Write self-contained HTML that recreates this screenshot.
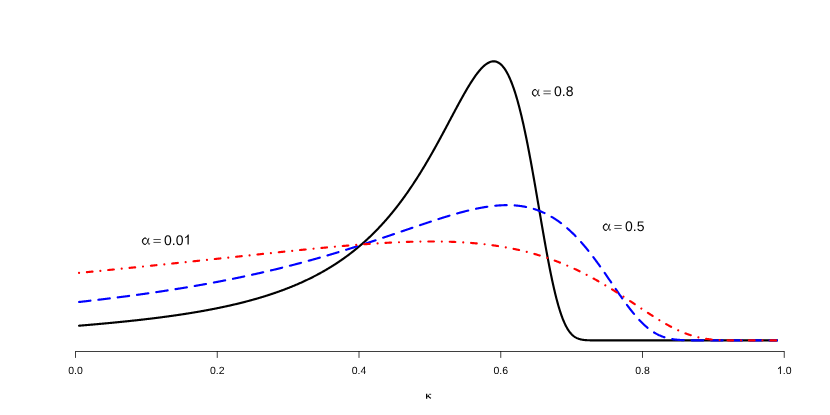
<!DOCTYPE html>
<html><head><meta charset="utf-8"><title>plot</title>
<style>
html,body{margin:0;padding:0;background:#fff;}
body{width:830px;height:415px;position:relative;overflow:hidden;font-family:"Liberation Sans",sans-serif;color:#000;}
svg{position:absolute;left:0;top:0;display:block;}
svg{opacity:0.999;will-change:opacity;}
</style></head><body>
<svg width="830" height="415" viewBox="0 0 830 415">
<g fill="none" stroke-linecap="round" stroke-linejoin="round" stroke-width="2.15">
<path stroke="#000" d="M79.04 325.72 L79.54 325.68 L80.04 325.64 L80.54 325.59 L81.04 325.55 L81.54 325.51 L82.04 325.47 L82.54 325.42 L83.04 325.38 L83.54 325.34 L84.04 325.30 L84.54 325.25 L85.04 325.21 L85.54 325.17 L86.04 325.12 L86.54 325.08 L87.04 325.04 L87.54 324.99 L88.04 324.95 L88.54 324.91 L89.04 324.86 L89.54 324.82 L90.04 324.78 L90.54 324.73 L91.04 324.69 L91.54 324.65 L92.04 324.60 L92.54 324.56 L93.04 324.51 L93.54 324.47 L94.04 324.43 L94.54 324.38 L95.04 324.34 L95.54 324.29 L96.04 324.25 L96.54 324.20 L97.04 324.16 L97.54 324.11 L98.04 324.07 L98.54 324.02 L99.04 323.98 L99.54 323.93 L100.04 323.89 L100.54 323.84 L101.04 323.80 L101.54 323.75 L102.04 323.71 L102.54 323.66 L103.04 323.61 L103.54 323.57 L104.04 323.52 L104.54 323.48 L105.04 323.43 L105.54 323.38 L106.04 323.34 L106.54 323.29 L107.04 323.24 L107.54 323.20 L108.04 323.15 L108.54 323.10 L109.04 323.05 L109.54 323.01 L110.04 322.96 L110.54 322.91 L111.04 322.86 L111.54 322.82 L112.04 322.77 L112.54 322.72 L113.04 322.67 L113.54 322.62 L114.04 322.58 L114.54 322.53 L115.04 322.48 L115.54 322.43 L116.04 322.38 L116.54 322.33 L117.04 322.28 L117.54 322.23 L118.04 322.18 L118.54 322.13 L119.04 322.08 L119.54 322.03 L120.04 321.98 L120.54 321.93 L121.04 321.88 L121.54 321.83 L122.04 321.78 L122.54 321.73 L123.04 321.68 L123.54 321.63 L124.04 321.58 L124.54 321.53 L125.04 321.48 L125.54 321.43 L126.04 321.37 L126.54 321.32 L127.04 321.27 L127.54 321.22 L128.04 321.17 L128.54 321.11 L129.04 321.06 L129.54 321.01 L130.04 320.95 L130.54 320.90 L131.04 320.85 L131.54 320.80 L132.04 320.74 L132.54 320.69 L133.04 320.63 L133.54 320.58 L134.04 320.53 L134.54 320.47 L135.04 320.42 L135.54 320.36 L136.04 320.31 L136.54 320.25 L137.04 320.20 L137.54 320.14 L138.04 320.09 L138.54 320.03 L139.04 319.97 L139.54 319.92 L140.04 319.86 L140.54 319.81 L141.04 319.75 L141.54 319.69 L142.04 319.63 L142.54 319.58 L143.04 319.52 L143.54 319.46 L144.04 319.40 L144.54 319.35 L145.04 319.29 L145.54 319.23 L146.04 319.17 L146.54 319.11 L147.04 319.05 L147.54 319.00 L148.04 318.94 L148.54 318.88 L149.04 318.82 L149.54 318.76 L150.04 318.70 L150.54 318.64 L151.04 318.58 L151.54 318.52 L152.04 318.45 L152.54 318.39 L153.04 318.33 L153.54 318.27 L154.04 318.21 L154.54 318.15 L155.04 318.08 L155.54 318.02 L156.04 317.96 L156.54 317.90 L157.04 317.83 L157.54 317.77 L158.04 317.71 L158.54 317.64 L159.04 317.58 L159.54 317.51 L160.04 317.45 L160.54 317.39 L161.04 317.32 L161.54 317.26 L162.04 317.19 L162.54 317.13 L163.04 317.06 L163.54 316.99 L164.04 316.93 L164.54 316.86 L165.04 316.79 L165.54 316.73 L166.04 316.66 L166.54 316.59 L167.04 316.52 L167.54 316.46 L168.04 316.39 L168.54 316.32 L169.04 316.25 L169.54 316.18 L170.04 316.11 L170.54 316.04 L171.04 315.97 L171.54 315.90 L172.04 315.83 L172.54 315.76 L173.04 315.69 L173.54 315.62 L174.04 315.55 L174.54 315.48 L175.04 315.41 L175.54 315.34 L176.04 315.26 L176.54 315.19 L177.04 315.12 L177.54 315.04 L178.04 314.97 L178.54 314.90 L179.04 314.82 L179.54 314.75 L180.04 314.67 L180.54 314.60 L181.04 314.52 L181.54 314.45 L182.04 314.37 L182.54 314.30 L183.04 314.22 L183.54 314.14 L184.04 314.07 L184.54 313.99 L185.04 313.91 L185.54 313.83 L186.04 313.76 L186.54 313.68 L187.04 313.60 L187.54 313.52 L188.04 313.44 L188.54 313.36 L189.04 313.28 L189.54 313.20 L190.04 313.12 L190.54 313.04 L191.04 312.96 L191.54 312.88 L192.04 312.79 L192.54 312.71 L193.04 312.63 L193.54 312.55 L194.04 312.46 L194.54 312.38 L195.04 312.30 L195.54 312.21 L196.04 312.13 L196.54 312.04 L197.04 311.96 L197.54 311.87 L198.04 311.79 L198.54 311.70 L199.04 311.61 L199.54 311.53 L200.04 311.44 L200.54 311.35 L201.04 311.26 L201.54 311.17 L202.04 311.09 L202.54 311.00 L203.04 310.91 L203.54 310.82 L204.04 310.73 L204.54 310.64 L205.04 310.55 L205.54 310.45 L206.04 310.36 L206.54 310.27 L207.04 310.18 L207.54 310.08 L208.04 309.99 L208.54 309.90 L209.04 309.80 L209.54 309.71 L210.04 309.61 L210.54 309.52 L211.04 309.42 L211.54 309.33 L212.04 309.23 L212.54 309.13 L213.04 309.04 L213.54 308.94 L214.04 308.84 L214.54 308.74 L215.04 308.64 L215.54 308.54 L216.04 308.44 L216.54 308.34 L217.04 308.24 L217.54 308.14 L218.04 308.04 L218.54 307.94 L219.04 307.84 L219.54 307.73 L220.04 307.63 L220.54 307.53 L221.04 307.42 L221.54 307.32 L222.04 307.21 L222.54 307.11 L223.04 307.00 L223.54 306.90 L224.04 306.79 L224.54 306.68 L225.04 306.57 L225.54 306.46 L226.04 306.36 L226.54 306.25 L227.04 306.14 L227.54 306.03 L228.04 305.92 L228.54 305.80 L229.04 305.69 L229.54 305.58 L230.04 305.47 L230.54 305.35 L231.04 305.24 L231.54 305.13 L232.04 305.01 L232.54 304.90 L233.04 304.78 L233.54 304.66 L234.04 304.55 L234.54 304.43 L235.04 304.31 L235.54 304.19 L236.04 304.08 L236.54 303.96 L237.04 303.84 L237.54 303.72 L238.04 303.59 L238.54 303.47 L239.04 303.35 L239.54 303.23 L240.04 303.11 L240.54 302.98 L241.04 302.86 L241.54 302.73 L242.04 302.61 L242.54 302.48 L243.04 302.35 L243.54 302.23 L244.04 302.10 L244.54 301.97 L245.04 301.84 L245.54 301.71 L246.04 301.58 L246.54 301.45 L247.04 301.32 L247.54 301.19 L248.04 301.05 L248.54 300.92 L249.04 300.79 L249.54 300.65 L250.04 300.52 L250.54 300.38 L251.04 300.25 L251.54 300.11 L252.04 299.97 L252.54 299.83 L253.04 299.69 L253.54 299.55 L254.04 299.41 L254.54 299.27 L255.04 299.13 L255.54 298.99 L256.04 298.85 L256.54 298.70 L257.04 298.56 L257.54 298.41 L258.04 298.27 L258.54 298.12 L259.04 297.97 L259.54 297.83 L260.04 297.68 L260.54 297.53 L261.04 297.38 L261.54 297.23 L262.04 297.08 L262.54 296.92 L263.04 296.77 L263.54 296.62 L264.04 296.46 L264.54 296.31 L265.04 296.15 L265.54 296.00 L266.04 295.84 L266.54 295.68 L267.04 295.52 L267.54 295.36 L268.04 295.20 L268.54 295.04 L269.04 294.88 L269.54 294.72 L270.04 294.55 L270.54 294.39 L271.04 294.22 L271.54 294.06 L272.04 293.89 L272.54 293.72 L273.04 293.56 L273.54 293.39 L274.04 293.22 L274.54 293.05 L275.04 292.87 L275.54 292.70 L276.04 292.53 L276.54 292.35 L277.04 292.18 L277.54 292.00 L278.04 291.83 L278.54 291.65 L279.04 291.47 L279.54 291.29 L280.04 291.11 L280.54 290.93 L281.04 290.75 L281.54 290.56 L282.04 290.38 L282.54 290.19 L283.04 290.01 L283.54 289.82 L284.04 289.63 L284.54 289.45 L285.04 289.26 L285.54 289.07 L286.04 288.87 L286.54 288.68 L287.04 288.49 L287.54 288.29 L288.04 288.10 L288.54 287.90 L289.04 287.70 L289.54 287.51 L290.04 287.31 L290.54 287.11 L291.04 286.90 L291.54 286.70 L292.04 286.50 L292.54 286.29 L293.04 286.09 L293.54 285.88 L294.04 285.67 L294.54 285.46 L295.04 285.25 L295.54 285.04 L296.04 284.83 L296.54 284.62 L297.04 284.40 L297.54 284.19 L298.04 283.97 L298.54 283.75 L299.04 283.53 L299.54 283.31 L300.04 283.09 L300.54 282.87 L301.04 282.65 L301.54 282.42 L302.04 282.20 L302.54 281.97 L303.04 281.74 L303.54 281.51 L304.04 281.28 L304.54 281.05 L305.04 280.82 L305.54 280.58 L306.04 280.35 L306.54 280.11 L307.04 279.87 L307.54 279.63 L308.04 279.39 L308.54 279.15 L309.04 278.91 L309.54 278.66 L310.04 278.42 L310.54 278.17 L311.04 277.92 L311.54 277.67 L312.04 277.42 L312.54 277.17 L313.04 276.92 L313.54 276.66 L314.04 276.41 L314.54 276.15 L315.04 275.89 L315.54 275.63 L316.04 275.37 L316.54 275.10 L317.04 274.84 L317.54 274.57 L318.04 274.31 L318.54 274.04 L319.04 273.77 L319.54 273.50 L320.04 273.22 L320.54 272.95 L321.04 272.67 L321.54 272.39 L322.04 272.11 L322.54 271.83 L323.04 271.55 L323.54 271.27 L324.04 270.98 L324.54 270.70 L325.04 270.41 L325.54 270.12 L326.04 269.83 L326.54 269.53 L327.04 269.24 L327.54 268.94 L328.04 268.64 L328.54 268.34 L329.04 268.04 L329.54 267.74 L330.04 267.43 L330.54 267.13 L331.04 266.82 L331.54 266.51 L332.04 266.20 L332.54 265.89 L333.04 265.57 L333.54 265.25 L334.04 264.94 L334.54 264.62 L335.04 264.29 L335.54 263.97 L336.04 263.65 L336.54 263.32 L337.04 262.99 L337.54 262.66 L338.04 262.33 L338.54 261.99 L339.04 261.65 L339.54 261.32 L340.04 260.98 L340.54 260.63 L341.04 260.29 L341.54 259.94 L342.04 259.60 L342.54 259.25 L343.04 258.90 L343.54 258.54 L344.04 258.19 L344.54 257.83 L345.04 257.47 L345.54 257.11 L346.04 256.74 L346.54 256.38 L347.04 256.01 L347.54 255.64 L348.04 255.27 L348.54 254.89 L349.04 254.52 L349.54 254.14 L350.04 253.76 L350.54 253.38 L351.04 252.99 L351.54 252.61 L352.04 252.22 L352.54 251.83 L353.04 251.43 L353.54 251.04 L354.04 250.64 L354.54 250.24 L355.04 249.84 L355.54 249.43 L356.04 249.03 L356.54 248.62 L357.04 248.21 L357.54 247.79 L358.04 247.38 L358.54 246.96 L359.04 246.54 L359.54 246.12 L360.04 245.69 L360.54 245.26 L361.04 244.83 L361.54 244.40 L362.04 243.96 L362.54 243.53 L363.04 243.09 L363.54 242.64 L364.04 242.20 L364.54 241.75 L365.04 241.30 L365.54 240.85 L366.04 240.39 L366.54 239.93 L367.04 239.47 L367.54 239.01 L368.04 238.55 L368.54 238.08 L369.04 237.61 L369.54 237.13 L370.04 236.66 L370.54 236.18 L371.04 235.70 L371.54 235.21 L372.04 234.73 L372.54 234.24 L373.04 233.74 L373.54 233.25 L374.04 232.75 L374.54 232.25 L375.04 231.75 L375.54 231.24 L376.04 230.73 L376.54 230.22 L377.04 229.70 L377.54 229.18 L378.04 228.66 L378.54 228.14 L379.04 227.61 L379.54 227.08 L380.04 226.55 L380.54 226.02 L381.04 225.48 L381.54 224.94 L382.04 224.39 L382.54 223.84 L383.04 223.29 L383.54 222.74 L384.04 222.18 L384.54 221.62 L385.04 221.06 L385.54 220.49 L386.04 219.92 L386.54 219.35 L387.04 218.78 L387.54 218.20 L388.04 217.62 L388.54 217.03 L389.04 216.44 L389.54 215.85 L390.04 215.26 L390.54 214.66 L391.04 214.06 L391.54 213.45 L392.04 212.85 L392.54 212.24 L393.04 211.62 L393.54 211.00 L394.04 210.38 L394.54 209.76 L395.04 209.13 L395.54 208.50 L396.04 207.87 L396.54 207.23 L397.04 206.59 L397.54 205.94 L398.04 205.29 L398.54 204.64 L399.04 203.99 L399.54 203.33 L400.04 202.67 L400.54 202.00 L401.04 201.33 L401.54 200.66 L402.04 199.99 L402.54 199.31 L403.04 198.62 L403.54 197.94 L404.04 197.25 L404.54 196.56 L405.04 195.86 L405.54 195.16 L406.04 194.46 L406.54 193.75 L407.04 193.04 L407.54 192.32 L408.04 191.61 L408.54 190.88 L409.04 190.16 L409.54 189.43 L410.04 188.70 L410.54 187.96 L411.04 187.22 L411.54 186.48 L412.04 185.73 L412.54 184.98 L413.04 184.23 L413.54 183.47 L414.04 182.71 L414.54 181.95 L415.04 181.18 L415.54 180.41 L416.04 179.64 L416.54 178.86 L417.04 178.07 L417.54 177.29 L418.04 176.50 L418.54 175.71 L419.04 174.91 L419.54 174.11 L420.04 173.31 L420.54 172.50 L421.04 171.69 L421.54 170.88 L422.04 170.06 L422.54 169.24 L423.04 168.42 L423.54 167.59 L424.04 166.76 L424.54 165.93 L425.04 165.09 L425.54 164.25 L426.04 163.41 L426.54 162.56 L427.04 161.72 L427.54 160.86 L428.04 160.01 L428.54 159.15 L429.04 158.29 L429.54 157.42 L430.04 156.55 L430.54 155.68 L431.04 154.81 L431.54 153.93 L432.04 153.05 L432.54 152.17 L433.04 151.28 L433.54 150.39 L434.04 149.50 L434.54 148.61 L435.04 147.71 L435.54 146.81 L436.04 145.91 L436.54 145.01 L437.04 144.10 L437.54 143.19 L438.04 142.28 L438.54 141.37 L439.04 140.45 L439.54 139.53 L440.04 138.62 L440.54 137.69 L441.04 136.77 L441.54 135.85 L442.04 134.92 L442.54 133.99 L443.04 133.06 L443.54 132.13 L444.04 131.20 L444.54 130.26 L445.04 129.33 L445.54 128.39 L446.04 127.45 L446.54 126.51 L447.04 125.58 L447.54 124.64 L448.04 123.69 L448.54 122.75 L449.04 121.81 L449.54 120.87 L450.04 119.93 L450.54 118.99 L451.04 118.05 L451.54 117.10 L452.04 116.16 L452.54 115.22 L453.04 114.28 L453.54 113.34 L454.04 112.40 L454.54 111.47 L455.04 110.53 L455.54 109.60 L456.04 108.66 L456.54 107.73 L457.04 106.80 L457.54 105.87 L458.04 104.95 L458.54 104.03 L459.04 103.11 L459.54 102.19 L460.04 101.27 L460.54 100.36 L461.04 99.46 L461.54 98.55 L462.04 97.65 L462.54 96.75 L463.04 95.86 L463.54 94.97 L464.04 94.09 L464.54 93.21 L465.04 92.34 L465.54 91.47 L466.04 90.61 L466.54 89.75 L467.04 88.90 L467.54 88.06 L468.04 87.22 L468.54 86.39 L469.04 85.57 L469.54 84.76 L470.04 83.95 L470.54 83.15 L471.04 82.36 L471.54 81.58 L472.04 80.80 L472.54 80.04 L473.04 79.28 L473.54 78.54 L474.04 77.81 L474.54 77.08 L475.04 76.37 L475.54 75.67 L476.04 74.98 L476.54 74.30 L477.04 73.64 L477.54 72.99 L478.04 72.35 L478.54 71.72 L479.04 71.11 L479.54 70.51 L480.04 69.93 L480.54 69.36 L481.04 68.81 L481.54 68.27 L482.04 67.76 L482.54 67.25 L483.04 66.77 L483.54 66.30 L484.04 65.85 L484.54 65.42 L485.04 65.00 L485.54 64.61 L486.04 64.24 L486.54 63.88 L487.04 63.55 L487.54 63.24 L488.04 62.95 L488.54 62.68 L489.04 62.43 L489.54 62.21 L490.04 62.01 L490.54 61.84 L491.04 61.69 L491.54 61.56 L492.04 61.46 L492.54 61.39 L493.04 61.34 L493.54 61.32 L494.04 61.33 L494.54 61.36 L495.04 61.43 L495.54 61.52 L496.04 61.64 L496.54 61.79 L497.04 61.97 L497.54 62.19 L498.04 62.43 L498.54 62.71 L499.04 63.02 L499.54 63.36 L500.04 63.73 L500.54 64.14 L501.04 64.58 L501.54 65.06 L502.04 65.57 L502.54 66.12 L503.04 66.71 L503.54 67.33 L504.04 67.98 L504.54 68.68 L505.04 69.41 L505.54 70.18 L506.04 70.99 L506.54 71.83 L507.04 72.72 L507.54 73.65 L508.04 74.61 L508.54 75.62 L509.04 76.66 L509.54 77.75 L510.04 78.88 L510.54 80.05 L511.04 81.26 L511.54 82.51 L512.04 83.80 L512.54 85.13 L513.04 86.51 L513.54 87.93 L514.04 89.39 L514.54 90.90 L515.04 92.44 L515.54 94.03 L516.04 95.66 L516.54 97.33 L517.04 99.05 L517.54 100.81 L518.04 102.60 L518.54 104.45 L519.04 106.33 L519.54 108.25 L520.04 110.22 L520.54 112.22 L521.04 114.27 L521.54 116.35 L522.04 118.48 L522.54 120.64 L523.04 122.85 L523.54 125.09 L524.04 127.37 L524.54 129.68 L525.04 132.03 L525.54 134.42 L526.04 136.84 L526.54 139.30 L527.04 141.79 L527.54 144.31 L528.04 146.86 L528.54 149.45 L529.04 152.06 L529.54 154.70 L530.04 157.37 L530.54 160.06 L531.04 162.78 L531.54 165.53 L532.04 168.29 L532.54 171.08 L533.04 173.89 L533.54 176.72 L534.04 179.56 L534.54 182.42 L535.04 185.29 L535.54 188.18 L536.04 191.08 L536.54 193.99 L537.04 196.90 L537.54 199.82 L538.04 202.75 L538.54 205.68 L539.04 208.61 L539.54 211.55 L540.04 214.48 L540.54 217.40 L541.04 220.32 L541.54 223.24 L542.04 226.14 L542.54 229.03 L543.04 231.92 L543.54 234.78 L544.04 237.63 L544.54 240.47 L545.04 243.28 L545.54 246.07 L546.04 248.84 L546.54 251.58 L547.04 254.30 L547.54 256.99 L548.04 259.65 L548.54 262.28 L549.04 264.87 L549.54 267.43 L550.04 269.95 L550.54 272.44 L551.04 274.89 L551.54 277.30 L552.04 279.66 L552.54 281.98 L553.04 284.26 L553.54 286.50 L554.04 288.69 L554.54 290.83 L555.04 292.92 L555.54 294.97 L556.04 296.97 L556.54 298.91 L557.04 300.81 L557.54 302.65 L558.04 304.45 L558.54 306.19 L559.04 307.88 L559.54 309.52 L560.04 311.10 L560.54 312.64 L561.04 314.12 L561.54 315.55 L562.04 316.93 L562.54 318.26 L563.04 319.53 L563.54 320.76 L564.04 321.93 L564.54 323.06 L565.04 324.14 L565.54 325.17 L566.04 326.15 L566.54 327.09 L567.04 327.98 L567.54 328.83 L568.04 329.63 L568.54 330.40 L569.04 331.12 L569.54 331.80 L570.04 332.45 L570.54 333.05 L571.04 333.63 L571.54 334.16 L572.04 334.67 L572.54 335.14 L573.04 335.58 L573.54 335.99 L574.04 336.37 L574.54 336.73 L575.04 337.06 L575.54 337.36 L576.04 337.65 L576.54 337.91 L577.04 338.15 L577.54 338.37 L578.04 338.57 L578.54 338.76 L579.04 338.93 L579.54 339.08 L580.04 339.22 L580.54 339.35 L581.04 339.47 L581.54 339.57 L582.04 339.67 L582.54 339.75 L583.04 339.83 L583.54 339.90 L584.04 339.96 L584.54 340.01 L585.04 340.06 L585.54 340.10 L586.04 340.14 L586.54 340.17 L587.04 340.20 L587.54 340.23 L588.04 340.25 L588.54 340.27 L589.04 340.28 L589.54 340.30 L590.04 340.31 L590.54 340.32 L591.04 340.33 L591.54 340.34 L592.04 340.35 L592.54 340.35 L593.04 340.36 L593.54 340.36 L594.04 340.36 L594.54 340.37 L595.04 340.37 L595.54 340.37 L596.04 340.37 L596.54 340.37 L597.04 340.38 L597.54 340.38 L598.04 340.38 L598.54 340.38 L599.04 340.38 L599.54 340.38 L600.04 340.38 L600.54 340.38 L601.04 340.38 L601.54 340.38 L602.04 340.38 L602.54 340.38 L603.04 340.38 L603.54 340.38 L604.04 340.38 L604.54 340.38 L605.04 340.38 L605.54 340.38 L606.04 340.38 L606.54 340.38 L607.04 340.38 L607.54 340.38 L608.04 340.38 L608.54 340.38 L609.04 340.38 L609.54 340.38 L610.04 340.38 L610.54 340.38 L611.04 340.38 L611.54 340.38 L612.04 340.38 L612.54 340.38 L613.04 340.38 L613.54 340.38 L614.04 340.38 L614.54 340.38 L615.04 340.38 L615.54 340.38 L616.04 340.38 L616.54 340.38 L617.04 340.38 L617.54 340.38 L618.04 340.38 L618.54 340.38 L619.04 340.38 L619.54 340.38 L620.04 340.38 L620.54 340.38 L621.04 340.38 L621.54 340.38 L622.04 340.38 L622.54 340.38 L623.04 340.38 L623.54 340.38 L624.04 340.38 L624.54 340.38 L625.04 340.38 L625.54 340.38 L626.04 340.38 L626.54 340.38 L627.04 340.38 L627.54 340.38 L628.04 340.38 L628.54 340.38 L629.04 340.38 L629.54 340.38 L630.04 340.38 L630.54 340.38 L631.04 340.38 L631.54 340.38 L632.04 340.38 L632.54 340.38 L633.04 340.38 L633.54 340.38 L634.04 340.38 L634.54 340.38 L635.04 340.38 L635.54 340.38 L636.04 340.38 L636.54 340.38 L637.04 340.38 L637.54 340.38 L638.04 340.38 L638.54 340.38 L639.04 340.38 L639.54 340.38 L640.04 340.38 L640.54 340.38 L641.04 340.38 L641.54 340.38 L642.04 340.38 L642.54 340.38 L643.04 340.38 L643.54 340.38 L644.04 340.38 L644.54 340.38 L645.04 340.38 L645.54 340.38 L646.04 340.38 L646.54 340.38 L647.04 340.38 L647.54 340.38 L648.04 340.38 L648.54 340.38 L649.04 340.38 L649.54 340.38 L650.04 340.38 L650.54 340.38 L651.04 340.38 L651.54 340.38 L652.04 340.38 L652.54 340.38 L653.04 340.38 L653.54 340.38 L654.04 340.38 L654.54 340.38 L655.04 340.38 L655.54 340.38 L656.04 340.38 L656.54 340.38 L657.04 340.38 L657.54 340.38 L658.04 340.38 L658.54 340.38 L659.04 340.38 L659.54 340.38 L660.04 340.38 L660.54 340.38 L661.04 340.38 L661.54 340.38 L662.04 340.38 L662.54 340.38 L663.04 340.38 L663.54 340.38 L664.04 340.38 L664.54 340.38 L665.04 340.38 L665.54 340.38 L666.04 340.38 L666.54 340.38 L667.04 340.38 L667.54 340.38 L668.04 340.38 L668.54 340.38 L669.04 340.38 L669.54 340.38 L670.04 340.38 L670.54 340.38 L671.04 340.38 L671.54 340.38 L672.04 340.38 L672.54 340.38 L673.04 340.38 L673.54 340.38 L674.04 340.38 L674.54 340.38 L675.04 340.38 L675.54 340.38 L676.04 340.38 L676.54 340.38 L677.04 340.38 L677.54 340.38 L678.04 340.38 L678.54 340.38 L679.04 340.38 L679.54 340.38 L680.04 340.38 L680.54 340.38 L681.04 340.38 L681.54 340.38 L682.04 340.38 L682.54 340.38 L683.04 340.38 L683.54 340.38 L684.04 340.38 L684.54 340.38 L685.04 340.38 L685.54 340.38 L686.04 340.38 L686.54 340.38 L687.04 340.38 L687.54 340.38 L688.04 340.38 L688.54 340.38 L689.04 340.38 L689.54 340.38 L690.04 340.38 L690.54 340.38 L691.04 340.38 L691.54 340.38 L692.04 340.38 L692.54 340.38 L693.04 340.38 L693.54 340.38 L694.04 340.38 L694.54 340.38 L695.04 340.38 L695.54 340.38 L696.04 340.38 L696.54 340.38 L697.04 340.38 L697.54 340.38 L698.04 340.38 L698.54 340.38 L699.04 340.38 L699.54 340.38 L700.04 340.38 L700.54 340.38 L701.04 340.38 L701.54 340.38 L702.04 340.38 L702.54 340.38 L703.04 340.38 L703.54 340.38 L704.04 340.38 L704.54 340.38 L705.04 340.38 L705.54 340.38 L706.04 340.38 L706.54 340.38 L707.04 340.38 L707.54 340.38 L708.04 340.38 L708.54 340.38 L709.04 340.38 L709.54 340.38 L710.04 340.38 L710.54 340.38 L711.04 340.38 L711.54 340.38 L712.04 340.38 L712.54 340.38 L713.04 340.38 L713.54 340.38 L714.04 340.38 L714.54 340.38 L715.04 340.38 L715.54 340.38 L716.04 340.38 L716.54 340.38 L717.04 340.38 L717.54 340.38 L718.04 340.38 L718.54 340.38 L719.04 340.38 L719.54 340.38 L720.04 340.38 L720.54 340.38 L721.04 340.38 L721.54 340.38 L722.04 340.38 L722.54 340.38 L723.04 340.38 L723.54 340.38 L724.04 340.38 L724.54 340.38 L725.04 340.38 L725.54 340.38 L726.04 340.38 L726.54 340.38 L727.04 340.38 L727.54 340.38 L728.04 340.38 L728.54 340.38 L729.04 340.38 L729.54 340.38 L730.04 340.38 L730.54 340.38 L731.04 340.38 L731.54 340.38 L732.04 340.38 L732.54 340.38 L733.04 340.38 L733.54 340.38 L734.04 340.38 L734.54 340.38 L735.04 340.38 L735.54 340.38 L736.04 340.38 L736.54 340.38 L737.04 340.38 L737.54 340.38 L738.04 340.38 L738.54 340.38 L739.04 340.38 L739.54 340.38 L740.04 340.38 L740.54 340.38 L741.04 340.38 L741.54 340.38 L742.04 340.38 L742.54 340.38 L743.04 340.38 L743.54 340.38 L744.04 340.38 L744.54 340.38 L745.04 340.38 L745.54 340.38 L746.04 340.38 L746.54 340.38 L747.04 340.38 L747.54 340.38 L748.04 340.38 L748.54 340.38 L749.04 340.38 L749.54 340.38 L750.04 340.38 L750.54 340.38 L751.04 340.38 L751.54 340.38 L752.04 340.38 L752.54 340.38 L753.04 340.38 L753.54 340.38 L754.04 340.38 L754.54 340.38 L755.04 340.38 L755.54 340.38 L756.04 340.38 L756.54 340.38 L757.04 340.38 L757.54 340.38 L758.04 340.38 L758.54 340.38 L759.04 340.38 L759.54 340.38 L760.04 340.38 L760.54 340.38 L761.04 340.38 L761.54 340.38 L762.04 340.38 L762.54 340.38 L763.04 340.38 L763.54 340.38 L764.04 340.38 L764.54 340.38 L765.04 340.38 L765.54 340.38 L766.04 340.38 L766.54 340.38 L767.04 340.38 L767.54 340.38 L768.04 340.38 L768.54 340.38 L769.04 340.38 L769.54 340.38 L770.04 340.38 L770.54 340.38 L771.04 340.38 L771.54 340.38 L772.04 340.38 L772.54 340.38 L773.04 340.38 L773.54 340.38 L774.04 340.38 L774.54 340.38 L775.04 340.38 L775.54 340.38 L776.04 340.38 L776.54 340.38 L777.04 340.38"/>
<path stroke="#0000ff" stroke-dasharray="11.48 7.99" d="M79.04 301.99 L79.54 301.93 L80.04 301.87 L80.54 301.82 L81.04 301.76 L81.54 301.71 L82.04 301.65 L82.54 301.59 L83.04 301.54 L83.54 301.48 L84.04 301.43 L84.54 301.37 L85.04 301.31 L85.54 301.26 L86.04 301.20 L86.54 301.14 L87.04 301.09 L87.54 301.03 L88.04 300.97 L88.54 300.91 L89.04 300.86 L89.54 300.80 L90.04 300.74 L90.54 300.68 L91.04 300.63 L91.54 300.57 L92.04 300.51 L92.54 300.45 L93.04 300.40 L93.54 300.34 L94.04 300.28 L94.54 300.22 L95.04 300.16 L95.54 300.10 L96.04 300.05 L96.54 299.99 L97.04 299.93 L97.54 299.87 L98.04 299.81 L98.54 299.75 L99.04 299.69 L99.54 299.63 L100.04 299.57 L100.54 299.51 L101.04 299.45 L101.54 299.39 L102.04 299.33 L102.54 299.27 L103.04 299.21 L103.54 299.15 L104.04 299.09 L104.54 299.03 L105.04 298.97 L105.54 298.91 L106.04 298.85 L106.54 298.79 L107.04 298.73 L107.54 298.67 L108.04 298.61 L108.54 298.55 L109.04 298.48 L109.54 298.42 L110.04 298.36 L110.54 298.30 L111.04 298.24 L111.54 298.18 L112.04 298.11 L112.54 298.05 L113.04 297.99 L113.54 297.93 L114.04 297.86 L114.54 297.80 L115.04 297.74 L115.54 297.68 L116.04 297.61 L116.54 297.55 L117.04 297.49 L117.54 297.42 L118.04 297.36 L118.54 297.30 L119.04 297.23 L119.54 297.17 L120.04 297.11 L120.54 297.04 L121.04 296.98 L121.54 296.91 L122.04 296.85 L122.54 296.78 L123.04 296.72 L123.54 296.65 L124.04 296.59 L124.54 296.52 L125.04 296.46 L125.54 296.39 L126.04 296.33 L126.54 296.26 L127.04 296.20 L127.54 296.13 L128.04 296.07 L128.54 296.00 L129.04 295.93 L129.54 295.87 L130.04 295.80 L130.54 295.73 L131.04 295.67 L131.54 295.60 L132.04 295.53 L132.54 295.47 L133.04 295.40 L133.54 295.33 L134.04 295.27 L134.54 295.20 L135.04 295.13 L135.54 295.06 L136.04 294.99 L136.54 294.93 L137.04 294.86 L137.54 294.79 L138.04 294.72 L138.54 294.65 L139.04 294.58 L139.54 294.51 L140.04 294.45 L140.54 294.38 L141.04 294.31 L141.54 294.24 L142.04 294.17 L142.54 294.10 L143.04 294.03 L143.54 293.96 L144.04 293.89 L144.54 293.82 L145.04 293.75 L145.54 293.68 L146.04 293.61 L146.54 293.54 L147.04 293.46 L147.54 293.39 L148.04 293.32 L148.54 293.25 L149.04 293.18 L149.54 293.11 L150.04 293.03 L150.54 292.96 L151.04 292.89 L151.54 292.82 L152.04 292.75 L152.54 292.67 L153.04 292.60 L153.54 292.53 L154.04 292.45 L154.54 292.38 L155.04 292.31 L155.54 292.23 L156.04 292.16 L156.54 292.09 L157.04 292.01 L157.54 291.94 L158.04 291.86 L158.54 291.79 L159.04 291.72 L159.54 291.64 L160.04 291.57 L160.54 291.49 L161.04 291.42 L161.54 291.34 L162.04 291.27 L162.54 291.19 L163.04 291.11 L163.54 291.04 L164.04 290.96 L164.54 290.89 L165.04 290.81 L165.54 290.73 L166.04 290.66 L166.54 290.58 L167.04 290.50 L167.54 290.42 L168.04 290.35 L168.54 290.27 L169.04 290.19 L169.54 290.11 L170.04 290.04 L170.54 289.96 L171.04 289.88 L171.54 289.80 L172.04 289.72 L172.54 289.64 L173.04 289.56 L173.54 289.49 L174.04 289.41 L174.54 289.33 L175.04 289.25 L175.54 289.17 L176.04 289.09 L176.54 289.01 L177.04 288.93 L177.54 288.85 L178.04 288.77 L178.54 288.68 L179.04 288.60 L179.54 288.52 L180.04 288.44 L180.54 288.36 L181.04 288.28 L181.54 288.20 L182.04 288.11 L182.54 288.03 L183.04 287.95 L183.54 287.87 L184.04 287.78 L184.54 287.70 L185.04 287.62 L185.54 287.54 L186.04 287.45 L186.54 287.37 L187.04 287.28 L187.54 287.20 L188.04 287.12 L188.54 287.03 L189.04 286.95 L189.54 286.86 L190.04 286.78 L190.54 286.69 L191.04 286.61 L191.54 286.52 L192.04 286.44 L192.54 286.35 L193.04 286.27 L193.54 286.18 L194.04 286.09 L194.54 286.01 L195.04 285.92 L195.54 285.83 L196.04 285.75 L196.54 285.66 L197.04 285.57 L197.54 285.49 L198.04 285.40 L198.54 285.31 L199.04 285.22 L199.54 285.13 L200.04 285.05 L200.54 284.96 L201.04 284.87 L201.54 284.78 L202.04 284.69 L202.54 284.60 L203.04 284.51 L203.54 284.42 L204.04 284.33 L204.54 284.24 L205.04 284.15 L205.54 284.06 L206.04 283.97 L206.54 283.88 L207.04 283.79 L207.54 283.70 L208.04 283.60 L208.54 283.51 L209.04 283.42 L209.54 283.33 L210.04 283.24 L210.54 283.14 L211.04 283.05 L211.54 282.96 L212.04 282.87 L212.54 282.77 L213.04 282.68 L213.54 282.59 L214.04 282.49 L214.54 282.40 L215.04 282.30 L215.54 282.21 L216.04 282.11 L216.54 282.02 L217.04 281.92 L217.54 281.83 L218.04 281.73 L218.54 281.64 L219.04 281.54 L219.54 281.45 L220.04 281.35 L220.54 281.25 L221.04 281.16 L221.54 281.06 L222.04 280.96 L222.54 280.87 L223.04 280.77 L223.54 280.67 L224.04 280.57 L224.54 280.48 L225.04 280.38 L225.54 280.28 L226.04 280.18 L226.54 280.08 L227.04 279.98 L227.54 279.88 L228.04 279.78 L228.54 279.68 L229.04 279.58 L229.54 279.48 L230.04 279.38 L230.54 279.28 L231.04 279.18 L231.54 279.08 L232.04 278.98 L232.54 278.88 L233.04 278.78 L233.54 278.68 L234.04 278.57 L234.54 278.47 L235.04 278.37 L235.54 278.27 L236.04 278.16 L236.54 278.06 L237.04 277.96 L237.54 277.85 L238.04 277.75 L238.54 277.65 L239.04 277.54 L239.54 277.44 L240.04 277.33 L240.54 277.23 L241.04 277.12 L241.54 277.02 L242.04 276.91 L242.54 276.81 L243.04 276.70 L243.54 276.59 L244.04 276.49 L244.54 276.38 L245.04 276.27 L245.54 276.17 L246.04 276.06 L246.54 275.95 L247.04 275.84 L247.54 275.74 L248.04 275.63 L248.54 275.52 L249.04 275.41 L249.54 275.30 L250.04 275.19 L250.54 275.08 L251.04 274.97 L251.54 274.86 L252.04 274.76 L252.54 274.64 L253.04 274.53 L253.54 274.42 L254.04 274.31 L254.54 274.20 L255.04 274.09 L255.54 273.98 L256.04 273.87 L256.54 273.76 L257.04 273.64 L257.54 273.53 L258.04 273.42 L258.54 273.30 L259.04 273.19 L259.54 273.08 L260.04 272.96 L260.54 272.85 L261.04 272.74 L261.54 272.62 L262.04 272.51 L262.54 272.39 L263.04 272.28 L263.54 272.16 L264.04 272.05 L264.54 271.93 L265.04 271.82 L265.54 271.70 L266.04 271.58 L266.54 271.47 L267.04 271.35 L267.54 271.23 L268.04 271.11 L268.54 271.00 L269.04 270.88 L269.54 270.76 L270.04 270.64 L270.54 270.52 L271.04 270.41 L271.54 270.29 L272.04 270.17 L272.54 270.05 L273.04 269.93 L273.54 269.81 L274.04 269.69 L274.54 269.57 L275.04 269.45 L275.54 269.33 L276.04 269.20 L276.54 269.08 L277.04 268.96 L277.54 268.84 L278.04 268.72 L278.54 268.59 L279.04 268.47 L279.54 268.35 L280.04 268.23 L280.54 268.10 L281.04 267.98 L281.54 267.85 L282.04 267.73 L282.54 267.61 L283.04 267.48 L283.54 267.36 L284.04 267.23 L284.54 267.11 L285.04 266.98 L285.54 266.86 L286.04 266.73 L286.54 266.60 L287.04 266.48 L287.54 266.35 L288.04 266.22 L288.54 266.09 L289.04 265.97 L289.54 265.84 L290.04 265.71 L290.54 265.58 L291.04 265.45 L291.54 265.33 L292.04 265.20 L292.54 265.07 L293.04 264.94 L293.54 264.81 L294.04 264.68 L294.54 264.55 L295.04 264.42 L295.54 264.29 L296.04 264.16 L296.54 264.02 L297.04 263.89 L297.54 263.76 L298.04 263.63 L298.54 263.50 L299.04 263.36 L299.54 263.23 L300.04 263.10 L300.54 262.97 L301.04 262.83 L301.54 262.70 L302.04 262.56 L302.54 262.43 L303.04 262.30 L303.54 262.16 L304.04 262.03 L304.54 261.89 L305.04 261.75 L305.54 261.62 L306.04 261.48 L306.54 261.35 L307.04 261.21 L307.54 261.07 L308.04 260.94 L308.54 260.80 L309.04 260.66 L309.54 260.52 L310.04 260.39 L310.54 260.25 L311.04 260.11 L311.54 259.97 L312.04 259.83 L312.54 259.69 L313.04 259.55 L313.54 259.41 L314.04 259.27 L314.54 259.13 L315.04 258.99 L315.54 258.85 L316.04 258.71 L316.54 258.57 L317.04 258.43 L317.54 258.29 L318.04 258.14 L318.54 258.00 L319.04 257.86 L319.54 257.72 L320.04 257.57 L320.54 257.43 L321.04 257.29 L321.54 257.14 L322.04 257.00 L322.54 256.86 L323.04 256.71 L323.54 256.57 L324.04 256.42 L324.54 256.28 L325.04 256.13 L325.54 255.98 L326.04 255.84 L326.54 255.69 L327.04 255.55 L327.54 255.40 L328.04 255.25 L328.54 255.11 L329.04 254.96 L329.54 254.81 L330.04 254.66 L330.54 254.51 L331.04 254.37 L331.54 254.22 L332.04 254.07 L332.54 253.92 L333.04 253.77 L333.54 253.62 L334.04 253.47 L334.54 253.32 L335.04 253.17 L335.54 253.02 L336.04 252.87 L336.54 252.72 L337.04 252.57 L337.54 252.42 L338.04 252.27 L338.54 252.11 L339.04 251.96 L339.54 251.81 L340.04 251.66 L340.54 251.50 L341.04 251.35 L341.54 251.20 L342.04 251.04 L342.54 250.89 L343.04 250.74 L343.54 250.58 L344.04 250.43 L344.54 250.27 L345.04 250.12 L345.54 249.96 L346.04 249.81 L346.54 249.65 L347.04 249.50 L347.54 249.34 L348.04 249.18 L348.54 249.03 L349.04 248.87 L349.54 248.71 L350.04 248.56 L350.54 248.40 L351.04 248.24 L351.54 248.09 L352.04 247.93 L352.54 247.77 L353.04 247.61 L353.54 247.45 L354.04 247.29 L354.54 247.13 L355.04 246.98 L355.54 246.82 L356.04 246.66 L356.54 246.50 L357.04 246.34 L357.54 246.18 L358.04 246.02 L358.54 245.86 L359.04 245.69 L359.54 245.53 L360.04 245.37 L360.54 245.21 L361.04 245.05 L361.54 244.89 L362.04 244.73 L362.54 244.56 L363.04 244.40 L363.54 244.24 L364.04 244.08 L364.54 243.91 L365.04 243.75 L365.54 243.59 L366.04 243.42 L366.54 243.26 L367.04 243.10 L367.54 242.93 L368.04 242.77 L368.54 242.60 L369.04 242.44 L369.54 242.27 L370.04 242.11 L370.54 241.94 L371.04 241.78 L371.54 241.61 L372.04 241.45 L372.54 241.28 L373.04 241.12 L373.54 240.95 L374.04 240.79 L374.54 240.62 L375.04 240.45 L375.54 240.29 L376.04 240.12 L376.54 239.95 L377.04 239.79 L377.54 239.62 L378.04 239.45 L378.54 239.28 L379.04 239.12 L379.54 238.95 L380.04 238.78 L380.54 238.61 L381.04 238.44 L381.54 238.28 L382.04 238.11 L382.54 237.94 L383.04 237.77 L383.54 237.60 L384.04 237.43 L384.54 237.26 L385.04 237.10 L385.54 236.93 L386.04 236.76 L386.54 236.59 L387.04 236.42 L387.54 236.25 L388.04 236.08 L388.54 235.91 L389.04 235.74 L389.54 235.57 L390.04 235.40 L390.54 235.23 L391.04 235.06 L391.54 234.89 L392.04 234.72 L392.54 234.55 L393.04 234.38 L393.54 234.21 L394.04 234.04 L394.54 233.87 L395.04 233.70 L395.54 233.52 L396.04 233.35 L396.54 233.18 L397.04 233.01 L397.54 232.84 L398.04 232.67 L398.54 232.50 L399.04 232.33 L399.54 232.16 L400.04 231.99 L400.54 231.81 L401.04 231.64 L401.54 231.47 L402.04 231.30 L402.54 231.13 L403.04 230.96 L403.54 230.79 L404.04 230.62 L404.54 230.44 L405.04 230.27 L405.54 230.10 L406.04 229.93 L406.54 229.76 L407.04 229.59 L407.54 229.42 L408.04 229.25 L408.54 229.08 L409.04 228.90 L409.54 228.73 L410.04 228.56 L410.54 228.39 L411.04 228.22 L411.54 228.05 L412.04 227.88 L412.54 227.71 L413.04 227.54 L413.54 227.37 L414.04 227.20 L414.54 227.03 L415.04 226.86 L415.54 226.69 L416.04 226.52 L416.54 226.35 L417.04 226.18 L417.54 226.01 L418.04 225.84 L418.54 225.67 L419.04 225.50 L419.54 225.33 L420.04 225.16 L420.54 224.99 L421.04 224.82 L421.54 224.66 L422.04 224.49 L422.54 224.32 L423.04 224.15 L423.54 223.98 L424.04 223.81 L424.54 223.65 L425.04 223.48 L425.54 223.31 L426.04 223.15 L426.54 222.98 L427.04 222.81 L427.54 222.65 L428.04 222.48 L428.54 222.31 L429.04 222.15 L429.54 221.98 L430.04 221.82 L430.54 221.65 L431.04 221.49 L431.54 221.32 L432.04 221.16 L432.54 221.00 L433.04 220.83 L433.54 220.67 L434.04 220.51 L434.54 220.35 L435.04 220.18 L435.54 220.02 L436.04 219.86 L436.54 219.70 L437.04 219.54 L437.54 219.38 L438.04 219.22 L438.54 219.06 L439.04 218.90 L439.54 218.74 L440.04 218.58 L440.54 218.42 L441.04 218.26 L441.54 218.11 L442.04 217.95 L442.54 217.79 L443.04 217.64 L443.54 217.48 L444.04 217.33 L444.54 217.17 L445.04 217.02 L445.54 216.86 L446.04 216.71 L446.54 216.56 L447.04 216.40 L447.54 216.25 L448.04 216.10 L448.54 215.95 L449.04 215.80 L449.54 215.65 L450.04 215.50 L450.54 215.35 L451.04 215.20 L451.54 215.06 L452.04 214.91 L452.54 214.76 L453.04 214.62 L453.54 214.47 L454.04 214.33 L454.54 214.19 L455.04 214.04 L455.54 213.90 L456.04 213.76 L456.54 213.62 L457.04 213.48 L457.54 213.34 L458.04 213.20 L458.54 213.06 L459.04 212.92 L459.54 212.79 L460.04 212.65 L460.54 212.52 L461.04 212.38 L461.54 212.25 L462.04 212.11 L462.54 211.98 L463.04 211.85 L463.54 211.72 L464.04 211.59 L464.54 211.46 L465.04 211.33 L465.54 211.21 L466.04 211.08 L466.54 210.96 L467.04 210.83 L467.54 210.71 L468.04 210.59 L468.54 210.47 L469.04 210.34 L469.54 210.23 L470.04 210.11 L470.54 209.99 L471.04 209.87 L471.54 209.76 L472.04 209.64 L472.54 209.53 L473.04 209.42 L473.54 209.31 L474.04 209.20 L474.54 209.09 L475.04 208.98 L475.54 208.87 L476.04 208.77 L476.54 208.66 L477.04 208.56 L477.54 208.46 L478.04 208.36 L478.54 208.26 L479.04 208.16 L479.54 208.06 L480.04 207.97 L480.54 207.87 L481.04 207.78 L481.54 207.69 L482.04 207.60 L482.54 207.51 L483.04 207.42 L483.54 207.33 L484.04 207.25 L484.54 207.16 L485.04 207.08 L485.54 207.00 L486.04 206.92 L486.54 206.84 L487.04 206.77 L487.54 206.69 L488.04 206.62 L488.54 206.55 L489.04 206.48 L489.54 206.41 L490.04 206.34 L490.54 206.28 L491.04 206.21 L491.54 206.15 L492.04 206.09 L492.54 206.03 L493.04 205.97 L493.54 205.92 L494.04 205.86 L494.54 205.81 L495.04 205.76 L495.54 205.71 L496.04 205.67 L496.54 205.62 L497.04 205.58 L497.54 205.54 L498.04 205.50 L498.54 205.46 L499.04 205.43 L499.54 205.39 L500.04 205.36 L500.54 205.33 L501.04 205.31 L501.54 205.28 L502.04 205.26 L502.54 205.24 L503.04 205.22 L503.54 205.20 L504.04 205.18 L504.54 205.17 L505.04 205.16 L505.54 205.15 L506.04 205.15 L506.54 205.14 L507.04 205.14 L507.54 205.14 L508.04 205.14 L508.54 205.15 L509.04 205.16 L509.54 205.17 L510.04 205.18 L510.54 205.19 L511.04 205.21 L511.54 205.23 L512.04 205.25 L512.54 205.28 L513.04 205.30 L513.54 205.33 L514.04 205.37 L514.54 205.40 L515.04 205.44 L515.54 205.48 L516.04 205.52 L516.54 205.56 L517.04 205.61 L517.54 205.66 L518.04 205.72 L518.54 205.77 L519.04 205.83 L519.54 205.89 L520.04 205.96 L520.54 206.03 L521.04 206.10 L521.54 206.17 L522.04 206.25 L522.54 206.32 L523.04 206.41 L523.54 206.49 L524.04 206.58 L524.54 206.67 L525.04 206.77 L525.54 206.86 L526.04 206.96 L526.54 207.07 L527.04 207.17 L527.54 207.28 L528.04 207.40 L528.54 207.51 L529.04 207.63 L529.54 207.76 L530.04 207.88 L530.54 208.01 L531.04 208.15 L531.54 208.28 L532.04 208.42 L532.54 208.57 L533.04 208.71 L533.54 208.86 L534.04 209.02 L534.54 209.17 L535.04 209.33 L535.54 209.50 L536.04 209.67 L536.54 209.84 L537.04 210.01 L537.54 210.19 L538.04 210.38 L538.54 210.56 L539.04 210.75 L539.54 210.95 L540.04 211.15 L540.54 211.35 L541.04 211.55 L541.54 211.76 L542.04 211.98 L542.54 212.19 L543.04 212.41 L543.54 212.64 L544.04 212.87 L544.54 213.10 L545.04 213.34 L545.54 213.58 L546.04 213.83 L546.54 214.08 L547.04 214.33 L547.54 214.59 L548.04 214.85 L548.54 215.11 L549.04 215.38 L549.54 215.66 L550.04 215.94 L550.54 216.22 L551.04 216.51 L551.54 216.80 L552.04 217.10 L552.54 217.40 L553.04 217.70 L553.54 218.01 L554.04 218.32 L554.54 218.64 L555.04 218.96 L555.54 219.29 L556.04 219.62 L556.54 219.96 L557.04 220.30 L557.54 220.64 L558.04 220.99 L558.54 221.34 L559.04 221.70 L559.54 222.06 L560.04 222.43 L560.54 222.80 L561.04 223.18 L561.54 223.56 L562.04 223.95 L562.54 224.34 L563.04 224.73 L563.54 225.13 L564.04 225.54 L564.54 225.95 L565.04 226.36 L565.54 226.78 L566.04 227.20 L566.54 227.63 L567.04 228.06 L567.54 228.50 L568.04 228.94 L568.54 229.38 L569.04 229.84 L569.54 230.29 L570.04 230.75 L570.54 231.22 L571.04 231.69 L571.54 232.16 L572.04 232.64 L572.54 233.12 L573.04 233.61 L573.54 234.11 L574.04 234.60 L574.54 235.11 L575.04 235.61 L575.54 236.13 L576.04 236.64 L576.54 237.16 L577.04 237.69 L577.54 238.22 L578.04 238.75 L578.54 239.29 L579.04 239.84 L579.54 240.39 L580.04 240.94 L580.54 241.50 L581.04 242.06 L581.54 242.62 L582.04 243.19 L582.54 243.77 L583.04 244.35 L583.54 244.93 L584.04 245.52 L584.54 246.11 L585.04 246.71 L585.54 247.31 L586.04 247.91 L586.54 248.52 L587.04 249.14 L587.54 249.75 L588.04 250.37 L588.54 251.00 L589.04 251.63 L589.54 252.26 L590.04 252.90 L590.54 253.54 L591.04 254.18 L591.54 254.83 L592.04 255.48 L592.54 256.13 L593.04 256.79 L593.54 257.45 L594.04 258.12 L594.54 258.79 L595.04 259.46 L595.54 260.13 L596.04 260.81 L596.54 261.49 L597.04 262.18 L597.54 262.86 L598.04 263.55 L598.54 264.24 L599.04 264.94 L599.54 265.64 L600.04 266.34 L600.54 267.04 L601.04 267.74 L601.54 268.45 L602.04 269.16 L602.54 269.87 L603.04 270.59 L603.54 271.30 L604.04 272.02 L604.54 272.74 L605.04 273.46 L605.54 274.18 L606.04 274.90 L606.54 275.63 L607.04 276.35 L607.54 277.08 L608.04 277.81 L608.54 278.54 L609.04 279.27 L609.54 280.00 L610.04 280.73 L610.54 281.46 L611.04 282.19 L611.54 282.93 L612.04 283.66 L612.54 284.39 L613.04 285.12 L613.54 285.85 L614.04 286.58 L614.54 287.31 L615.04 288.04 L615.54 288.77 L616.04 289.50 L616.54 290.23 L617.04 290.96 L617.54 291.68 L618.04 292.40 L618.54 293.13 L619.04 293.85 L619.54 294.56 L620.04 295.28 L620.54 295.99 L621.04 296.71 L621.54 297.42 L622.04 298.12 L622.54 298.83 L623.04 299.53 L623.54 300.23 L624.04 300.92 L624.54 301.61 L625.04 302.30 L625.54 302.99 L626.04 303.67 L626.54 304.35 L627.04 305.02 L627.54 305.69 L628.04 306.36 L628.54 307.02 L629.04 307.68 L629.54 308.33 L630.04 308.98 L630.54 309.62 L631.04 310.26 L631.54 310.89 L632.04 311.52 L632.54 312.14 L633.04 312.75 L633.54 313.37 L634.04 313.97 L634.54 314.57 L635.04 315.16 L635.54 315.75 L636.04 316.33 L636.54 316.91 L637.04 317.48 L637.54 318.04 L638.04 318.59 L638.54 319.14 L639.04 319.68 L639.54 320.22 L640.04 320.75 L640.54 321.27 L641.04 321.78 L641.54 322.29 L642.04 322.79 L642.54 323.28 L643.04 323.76 L643.54 324.24 L644.04 324.71 L644.54 325.17 L645.04 325.62 L645.54 326.07 L646.04 326.51 L646.54 326.94 L647.04 327.36 L647.54 327.78 L648.04 328.18 L648.54 328.58 L649.04 328.97 L649.54 329.36 L650.04 329.73 L650.54 330.10 L651.04 330.46 L651.54 330.81 L652.04 331.16 L652.54 331.49 L653.04 331.82 L653.54 332.14 L654.04 332.45 L654.54 332.76 L655.04 333.05 L655.54 333.34 L656.04 333.62 L656.54 333.90 L657.04 334.16 L657.54 334.42 L658.04 334.67 L658.54 334.92 L659.04 335.15 L659.54 335.38 L660.04 335.60 L660.54 335.82 L661.04 336.03 L661.54 336.23 L662.04 336.43 L662.54 336.61 L663.04 336.80 L663.54 336.97 L664.04 337.14 L664.54 337.30 L665.04 337.46 L665.54 337.61 L666.04 337.76 L666.54 337.89 L667.04 338.03 L667.54 338.16 L668.04 338.28 L668.54 338.40 L669.04 338.51 L669.54 338.62 L670.04 338.72 L670.54 338.82 L671.04 338.91 L671.54 339.00 L672.04 339.09 L672.54 339.17 L673.04 339.25 L673.54 339.32 L674.04 339.39 L674.54 339.45 L675.04 339.52 L675.54 339.57 L676.04 339.63 L676.54 339.68 L677.04 339.73 L677.54 339.78 L678.04 339.82 L678.54 339.86 L679.04 339.90 L679.54 339.94 L680.04 339.97 L680.54 340.00 L681.04 340.03 L681.54 340.06 L682.04 340.09 L682.54 340.11 L683.04 340.13 L683.54 340.16 L684.04 340.17 L684.54 340.19 L685.04 340.21 L685.54 340.22 L686.04 340.24 L686.54 340.25 L687.04 340.26 L687.54 340.28 L688.04 340.29 L688.54 340.29 L689.04 340.30 L689.54 340.31 L690.04 340.32 L690.54 340.32 L691.04 340.33 L691.54 340.34 L692.04 340.34 L692.54 340.34 L693.04 340.35 L693.54 340.35 L694.04 340.36 L694.54 340.36 L695.04 340.36 L695.54 340.36 L696.04 340.37 L696.54 340.37 L697.04 340.37 L697.54 340.37 L698.04 340.37 L698.54 340.37 L699.04 340.37 L699.54 340.37 L700.04 340.38 L700.54 340.38 L701.04 340.38 L701.54 340.38 L702.04 340.38 L702.54 340.38 L703.04 340.38 L703.54 340.38 L704.04 340.38 L704.54 340.38 L705.04 340.38 L705.54 340.38 L706.04 340.38 L706.54 340.38 L707.04 340.38 L707.54 340.38 L708.04 340.38 L708.54 340.38 L709.04 340.38 L709.54 340.38 L710.04 340.38 L710.54 340.38 L711.04 340.38 L711.54 340.38 L712.04 340.38 L712.54 340.38 L713.04 340.38 L713.54 340.38 L714.04 340.38 L714.54 340.38 L715.04 340.38 L715.54 340.38 L716.04 340.38 L716.54 340.38 L717.04 340.38 L717.54 340.38 L718.04 340.38 L718.54 340.38 L719.04 340.38 L719.54 340.38 L720.04 340.38 L720.54 340.38 L721.04 340.38 L721.54 340.38 L722.04 340.38 L722.54 340.38 L723.04 340.38 L723.54 340.38 L724.04 340.38 L724.54 340.38 L725.04 340.38 L725.54 340.38 L726.04 340.38 L726.54 340.38 L727.04 340.38 L727.54 340.38 L728.04 340.38 L728.54 340.38 L729.04 340.38 L729.54 340.38 L730.04 340.38 L730.54 340.38 L731.04 340.38 L731.54 340.38 L732.04 340.38 L732.54 340.38 L733.04 340.38 L733.54 340.38 L734.04 340.38 L734.54 340.38 L735.04 340.38 L735.54 340.38 L736.04 340.38 L736.54 340.38 L737.04 340.38 L737.54 340.38 L738.04 340.38 L738.54 340.38 L739.04 340.38 L739.54 340.38 L740.04 340.38 L740.54 340.38 L741.04 340.38 L741.54 340.38 L742.04 340.38 L742.54 340.38 L743.04 340.38 L743.54 340.38 L744.04 340.38 L744.54 340.38 L745.04 340.38 L745.54 340.38 L746.04 340.38 L746.54 340.38 L747.04 340.38 L747.54 340.38 L748.04 340.38 L748.54 340.38 L749.04 340.38 L749.54 340.38 L750.04 340.38 L750.54 340.38 L751.04 340.38 L751.54 340.38 L752.04 340.38 L752.54 340.38 L753.04 340.38 L753.54 340.38 L754.04 340.38 L754.54 340.38 L755.04 340.38 L755.54 340.38 L756.04 340.38 L756.54 340.38 L757.04 340.38 L757.54 340.38 L758.04 340.38 L758.54 340.38 L759.04 340.38 L759.54 340.38 L760.04 340.38 L760.54 340.38 L761.04 340.38 L761.54 340.38 L762.04 340.38 L762.54 340.38 L763.04 340.38 L763.54 340.38 L764.04 340.38 L764.54 340.38 L765.04 340.38 L765.54 340.38 L766.04 340.38 L766.54 340.38 L767.04 340.38 L767.54 340.38 L768.04 340.38 L768.54 340.38 L769.04 340.38 L769.54 340.38 L770.04 340.38 L770.54 340.38 L771.04 340.38 L771.54 340.38 L772.04 340.38 L772.54 340.38 L773.04 340.38 L773.54 340.38 L774.04 340.38 L774.54 340.38 L775.04 340.38 L775.54 340.38 L776.04 340.38 L776.54 340.38 L777.04 340.38"/>
<path stroke="#ff0000" stroke-dasharray="0.01 7.89 5.64 7.89" d="M79.04 272.89 L79.54 272.84 L80.04 272.79 L80.54 272.75 L81.04 272.70 L81.54 272.65 L82.04 272.60 L82.54 272.55 L83.04 272.50 L83.54 272.45 L84.04 272.40 L84.54 272.36 L85.04 272.31 L85.54 272.26 L86.04 272.21 L86.54 272.16 L87.04 272.11 L87.54 272.06 L88.04 272.01 L88.54 271.96 L89.04 271.92 L89.54 271.87 L90.04 271.82 L90.54 271.77 L91.04 271.72 L91.54 271.67 L92.04 271.62 L92.54 271.57 L93.04 271.52 L93.54 271.47 L94.04 271.43 L94.54 271.38 L95.04 271.33 L95.54 271.28 L96.04 271.23 L96.54 271.18 L97.04 271.13 L97.54 271.08 L98.04 271.03 L98.54 270.98 L99.04 270.93 L99.54 270.88 L100.04 270.84 L100.54 270.79 L101.04 270.74 L101.54 270.69 L102.04 270.64 L102.54 270.59 L103.04 270.54 L103.54 270.49 L104.04 270.44 L104.54 270.39 L105.04 270.34 L105.54 270.29 L106.04 270.24 L106.54 270.19 L107.04 270.14 L107.54 270.09 L108.04 270.04 L108.54 269.99 L109.04 269.95 L109.54 269.90 L110.04 269.85 L110.54 269.80 L111.04 269.75 L111.54 269.70 L112.04 269.65 L112.54 269.60 L113.04 269.55 L113.54 269.50 L114.04 269.45 L114.54 269.40 L115.04 269.35 L115.54 269.30 L116.04 269.25 L116.54 269.20 L117.04 269.15 L117.54 269.10 L118.04 269.05 L118.54 269.00 L119.04 268.95 L119.54 268.90 L120.04 268.85 L120.54 268.80 L121.04 268.75 L121.54 268.70 L122.04 268.65 L122.54 268.60 L123.04 268.55 L123.54 268.50 L124.04 268.45 L124.54 268.40 L125.04 268.35 L125.54 268.30 L126.04 268.25 L126.54 268.20 L127.04 268.15 L127.54 268.10 L128.04 268.05 L128.54 268.00 L129.04 267.95 L129.54 267.90 L130.04 267.84 L130.54 267.79 L131.04 267.74 L131.54 267.69 L132.04 267.64 L132.54 267.59 L133.04 267.54 L133.54 267.49 L134.04 267.44 L134.54 267.39 L135.04 267.34 L135.54 267.29 L136.04 267.24 L136.54 267.19 L137.04 267.14 L137.54 267.09 L138.04 267.04 L138.54 266.98 L139.04 266.93 L139.54 266.88 L140.04 266.83 L140.54 266.78 L141.04 266.73 L141.54 266.68 L142.04 266.63 L142.54 266.58 L143.04 266.53 L143.54 266.48 L144.04 266.43 L144.54 266.37 L145.04 266.32 L145.54 266.27 L146.04 266.22 L146.54 266.17 L147.04 266.12 L147.54 266.07 L148.04 266.02 L148.54 265.97 L149.04 265.91 L149.54 265.86 L150.04 265.81 L150.54 265.76 L151.04 265.71 L151.54 265.66 L152.04 265.61 L152.54 265.56 L153.04 265.51 L153.54 265.45 L154.04 265.40 L154.54 265.35 L155.04 265.30 L155.54 265.25 L156.04 265.20 L156.54 265.15 L157.04 265.09 L157.54 265.04 L158.04 264.99 L158.54 264.94 L159.04 264.89 L159.54 264.84 L160.04 264.78 L160.54 264.73 L161.04 264.68 L161.54 264.63 L162.04 264.58 L162.54 264.53 L163.04 264.47 L163.54 264.42 L164.04 264.37 L164.54 264.32 L165.04 264.27 L165.54 264.22 L166.04 264.16 L166.54 264.11 L167.04 264.06 L167.54 264.01 L168.04 263.96 L168.54 263.91 L169.04 263.85 L169.54 263.80 L170.04 263.75 L170.54 263.70 L171.04 263.65 L171.54 263.59 L172.04 263.54 L172.54 263.49 L173.04 263.44 L173.54 263.39 L174.04 263.33 L174.54 263.28 L175.04 263.23 L175.54 263.18 L176.04 263.12 L176.54 263.07 L177.04 263.02 L177.54 262.97 L178.04 262.92 L178.54 262.86 L179.04 262.81 L179.54 262.76 L180.04 262.71 L180.54 262.65 L181.04 262.60 L181.54 262.55 L182.04 262.50 L182.54 262.44 L183.04 262.39 L183.54 262.34 L184.04 262.29 L184.54 262.23 L185.04 262.18 L185.54 262.13 L186.04 262.08 L186.54 262.02 L187.04 261.97 L187.54 261.92 L188.04 261.87 L188.54 261.81 L189.04 261.76 L189.54 261.71 L190.04 261.66 L190.54 261.60 L191.04 261.55 L191.54 261.50 L192.04 261.45 L192.54 261.39 L193.04 261.34 L193.54 261.29 L194.04 261.24 L194.54 261.18 L195.04 261.13 L195.54 261.08 L196.04 261.02 L196.54 260.97 L197.04 260.92 L197.54 260.87 L198.04 260.81 L198.54 260.76 L199.04 260.71 L199.54 260.65 L200.04 260.60 L200.54 260.55 L201.04 260.49 L201.54 260.44 L202.04 260.39 L202.54 260.34 L203.04 260.28 L203.54 260.23 L204.04 260.18 L204.54 260.12 L205.04 260.07 L205.54 260.02 L206.04 259.96 L206.54 259.91 L207.04 259.86 L207.54 259.81 L208.04 259.75 L208.54 259.70 L209.04 259.65 L209.54 259.59 L210.04 259.54 L210.54 259.49 L211.04 259.43 L211.54 259.38 L212.04 259.33 L212.54 259.27 L213.04 259.22 L213.54 259.17 L214.04 259.11 L214.54 259.06 L215.04 259.01 L215.54 258.95 L216.04 258.90 L216.54 258.85 L217.04 258.79 L217.54 258.74 L218.04 258.69 L218.54 258.63 L219.04 258.58 L219.54 258.53 L220.04 258.47 L220.54 258.42 L221.04 258.37 L221.54 258.31 L222.04 258.26 L222.54 258.21 L223.04 258.15 L223.54 258.10 L224.04 258.05 L224.54 257.99 L225.04 257.94 L225.54 257.89 L226.04 257.83 L226.54 257.78 L227.04 257.73 L227.54 257.67 L228.04 257.62 L228.54 257.57 L229.04 257.51 L229.54 257.46 L230.04 257.41 L230.54 257.35 L231.04 257.30 L231.54 257.25 L232.04 257.19 L232.54 257.14 L233.04 257.09 L233.54 257.03 L234.04 256.98 L234.54 256.93 L235.04 256.87 L235.54 256.82 L236.04 256.77 L236.54 256.71 L237.04 256.66 L237.54 256.61 L238.04 256.55 L238.54 256.50 L239.04 256.45 L239.54 256.39 L240.04 256.34 L240.54 256.28 L241.04 256.23 L241.54 256.18 L242.04 256.12 L242.54 256.07 L243.04 256.02 L243.54 255.96 L244.04 255.91 L244.54 255.86 L245.04 255.80 L245.54 255.75 L246.04 255.70 L246.54 255.64 L247.04 255.59 L247.54 255.54 L248.04 255.48 L248.54 255.43 L249.04 255.38 L249.54 255.32 L250.04 255.27 L250.54 255.22 L251.04 255.16 L251.54 255.11 L252.04 255.06 L252.54 255.00 L253.04 254.95 L253.54 254.90 L254.04 254.84 L254.54 254.79 L255.04 254.74 L255.54 254.68 L256.04 254.63 L256.54 254.58 L257.04 254.52 L257.54 254.47 L258.04 254.42 L258.54 254.37 L259.04 254.31 L259.54 254.26 L260.04 254.21 L260.54 254.15 L261.04 254.10 L261.54 254.05 L262.04 253.99 L262.54 253.94 L263.04 253.89 L263.54 253.83 L264.04 253.78 L264.54 253.73 L265.04 253.68 L265.54 253.62 L266.04 253.57 L266.54 253.52 L267.04 253.46 L267.54 253.41 L268.04 253.36 L268.54 253.31 L269.04 253.25 L269.54 253.20 L270.04 253.15 L270.54 253.10 L271.04 253.04 L271.54 252.99 L272.04 252.94 L272.54 252.88 L273.04 252.83 L273.54 252.78 L274.04 252.73 L274.54 252.67 L275.04 252.62 L275.54 252.57 L276.04 252.52 L276.54 252.46 L277.04 252.41 L277.54 252.36 L278.04 252.31 L278.54 252.26 L279.04 252.20 L279.54 252.15 L280.04 252.10 L280.54 252.05 L281.04 251.99 L281.54 251.94 L282.04 251.89 L282.54 251.84 L283.04 251.79 L283.54 251.73 L284.04 251.68 L284.54 251.63 L285.04 251.58 L285.54 251.53 L286.04 251.48 L286.54 251.42 L287.04 251.37 L287.54 251.32 L288.04 251.27 L288.54 251.22 L289.04 251.17 L289.54 251.11 L290.04 251.06 L290.54 251.01 L291.04 250.96 L291.54 250.91 L292.04 250.86 L292.54 250.81 L293.04 250.76 L293.54 250.70 L294.04 250.65 L294.54 250.60 L295.04 250.55 L295.54 250.50 L296.04 250.45 L296.54 250.40 L297.04 250.35 L297.54 250.30 L298.04 250.25 L298.54 250.20 L299.04 250.15 L299.54 250.09 L300.04 250.04 L300.54 249.99 L301.04 249.94 L301.54 249.89 L302.04 249.84 L302.54 249.79 L303.04 249.74 L303.54 249.69 L304.04 249.64 L304.54 249.59 L305.04 249.54 L305.54 249.49 L306.04 249.44 L306.54 249.39 L307.04 249.34 L307.54 249.29 L308.04 249.24 L308.54 249.19 L309.04 249.15 L309.54 249.10 L310.04 249.05 L310.54 249.00 L311.04 248.95 L311.54 248.90 L312.04 248.85 L312.54 248.80 L313.04 248.75 L313.54 248.70 L314.04 248.66 L314.54 248.61 L315.04 248.56 L315.54 248.51 L316.04 248.46 L316.54 248.41 L317.04 248.36 L317.54 248.32 L318.04 248.27 L318.54 248.22 L319.04 248.17 L319.54 248.12 L320.04 248.08 L320.54 248.03 L321.04 247.98 L321.54 247.93 L322.04 247.89 L322.54 247.84 L323.04 247.79 L323.54 247.74 L324.04 247.70 L324.54 247.65 L325.04 247.60 L325.54 247.56 L326.04 247.51 L326.54 247.46 L327.04 247.42 L327.54 247.37 L328.04 247.32 L328.54 247.28 L329.04 247.23 L329.54 247.19 L330.04 247.14 L330.54 247.09 L331.04 247.05 L331.54 247.00 L332.04 246.96 L332.54 246.91 L333.04 246.87 L333.54 246.82 L334.04 246.77 L334.54 246.73 L335.04 246.68 L335.54 246.64 L336.04 246.60 L336.54 246.55 L337.04 246.51 L337.54 246.46 L338.04 246.42 L338.54 246.37 L339.04 246.33 L339.54 246.29 L340.04 246.24 L340.54 246.20 L341.04 246.15 L341.54 246.11 L342.04 246.07 L342.54 246.02 L343.04 245.98 L343.54 245.94 L344.04 245.89 L344.54 245.85 L345.04 245.81 L345.54 245.77 L346.04 245.72 L346.54 245.68 L347.04 245.64 L347.54 245.60 L348.04 245.56 L348.54 245.51 L349.04 245.47 L349.54 245.43 L350.04 245.39 L350.54 245.35 L351.04 245.31 L351.54 245.27 L352.04 245.23 L352.54 245.19 L353.04 245.15 L353.54 245.10 L354.04 245.06 L354.54 245.02 L355.04 244.98 L355.54 244.95 L356.04 244.91 L356.54 244.87 L357.04 244.83 L357.54 244.79 L358.04 244.75 L358.54 244.71 L359.04 244.67 L359.54 244.63 L360.04 244.59 L360.54 244.56 L361.04 244.52 L361.54 244.48 L362.04 244.44 L362.54 244.40 L363.04 244.37 L363.54 244.33 L364.04 244.29 L364.54 244.26 L365.04 244.22 L365.54 244.18 L366.04 244.15 L366.54 244.11 L367.04 244.07 L367.54 244.04 L368.04 244.00 L368.54 243.97 L369.04 243.93 L369.54 243.90 L370.04 243.86 L370.54 243.83 L371.04 243.79 L371.54 243.76 L372.04 243.72 L372.54 243.69 L373.04 243.66 L373.54 243.62 L374.04 243.59 L374.54 243.56 L375.04 243.52 L375.54 243.49 L376.04 243.46 L376.54 243.43 L377.04 243.39 L377.54 243.36 L378.04 243.33 L378.54 243.30 L379.04 243.27 L379.54 243.24 L380.04 243.21 L380.54 243.17 L381.04 243.14 L381.54 243.11 L382.04 243.08 L382.54 243.05 L383.04 243.02 L383.54 242.99 L384.04 242.97 L384.54 242.94 L385.04 242.91 L385.54 242.88 L386.04 242.85 L386.54 242.82 L387.04 242.80 L387.54 242.77 L388.04 242.74 L388.54 242.71 L389.04 242.69 L389.54 242.66 L390.04 242.63 L390.54 242.61 L391.04 242.58 L391.54 242.56 L392.04 242.53 L392.54 242.50 L393.04 242.48 L393.54 242.46 L394.04 242.43 L394.54 242.41 L395.04 242.38 L395.54 242.36 L396.04 242.34 L396.54 242.31 L397.04 242.29 L397.54 242.27 L398.04 242.25 L398.54 242.22 L399.04 242.20 L399.54 242.18 L400.04 242.16 L400.54 242.14 L401.04 242.12 L401.54 242.10 L402.04 242.08 L402.54 242.06 L403.04 242.04 L403.54 242.02 L404.04 242.00 L404.54 241.98 L405.04 241.96 L405.54 241.94 L406.04 241.93 L406.54 241.91 L407.04 241.89 L407.54 241.87 L408.04 241.86 L408.54 241.84 L409.04 241.83 L409.54 241.81 L410.04 241.80 L410.54 241.78 L411.04 241.77 L411.54 241.75 L412.04 241.74 L412.54 241.72 L413.04 241.71 L413.54 241.70 L414.04 241.68 L414.54 241.67 L415.04 241.66 L415.54 241.65 L416.04 241.64 L416.54 241.63 L417.04 241.61 L417.54 241.60 L418.04 241.59 L418.54 241.58 L419.04 241.57 L419.54 241.57 L420.04 241.56 L420.54 241.55 L421.04 241.54 L421.54 241.53 L422.04 241.53 L422.54 241.52 L423.04 241.51 L423.54 241.51 L424.04 241.50 L424.54 241.50 L425.04 241.49 L425.54 241.49 L426.04 241.48 L426.54 241.48 L427.04 241.47 L427.54 241.47 L428.04 241.47 L428.54 241.47 L429.04 241.46 L429.54 241.46 L430.04 241.46 L430.54 241.46 L431.04 241.46 L431.54 241.46 L432.04 241.46 L432.54 241.46 L433.04 241.46 L433.54 241.46 L434.04 241.47 L434.54 241.47 L435.04 241.47 L435.54 241.47 L436.04 241.48 L436.54 241.48 L437.04 241.49 L437.54 241.49 L438.04 241.50 L438.54 241.50 L439.04 241.51 L439.54 241.52 L440.04 241.52 L440.54 241.53 L441.04 241.54 L441.54 241.55 L442.04 241.56 L442.54 241.57 L443.04 241.58 L443.54 241.59 L444.04 241.60 L444.54 241.61 L445.04 241.62 L445.54 241.63 L446.04 241.64 L446.54 241.66 L447.04 241.67 L447.54 241.68 L448.04 241.70 L448.54 241.71 L449.04 241.73 L449.54 241.75 L450.04 241.76 L450.54 241.78 L451.04 241.80 L451.54 241.81 L452.04 241.83 L452.54 241.85 L453.04 241.87 L453.54 241.89 L454.04 241.91 L454.54 241.93 L455.04 241.95 L455.54 241.98 L456.04 242.00 L456.54 242.02 L457.04 242.05 L457.54 242.07 L458.04 242.09 L458.54 242.12 L459.04 242.15 L459.54 242.17 L460.04 242.20 L460.54 242.23 L461.04 242.25 L461.54 242.28 L462.04 242.31 L462.54 242.34 L463.04 242.37 L463.54 242.40 L464.04 242.43 L464.54 242.47 L465.04 242.50 L465.54 242.53 L466.04 242.56 L466.54 242.60 L467.04 242.63 L467.54 242.67 L468.04 242.70 L468.54 242.74 L469.04 242.78 L469.54 242.82 L470.04 242.85 L470.54 242.89 L471.04 242.93 L471.54 242.97 L472.04 243.01 L472.54 243.06 L473.04 243.10 L473.54 243.14 L474.04 243.18 L474.54 243.23 L475.04 243.27 L475.54 243.32 L476.04 243.36 L476.54 243.41 L477.04 243.46 L477.54 243.50 L478.04 243.55 L478.54 243.60 L479.04 243.65 L479.54 243.70 L480.04 243.75 L480.54 243.80 L481.04 243.86 L481.54 243.91 L482.04 243.96 L482.54 244.02 L483.04 244.07 L483.54 244.13 L484.04 244.18 L484.54 244.24 L485.04 244.30 L485.54 244.36 L486.04 244.42 L486.54 244.48 L487.04 244.54 L487.54 244.60 L488.04 244.66 L488.54 244.72 L489.04 244.79 L489.54 244.85 L490.04 244.91 L490.54 244.98 L491.04 245.05 L491.54 245.11 L492.04 245.18 L492.54 245.25 L493.04 245.32 L493.54 245.39 L494.04 245.46 L494.54 245.53 L495.04 245.60 L495.54 245.68 L496.04 245.75 L496.54 245.82 L497.04 245.90 L497.54 245.98 L498.04 246.05 L498.54 246.13 L499.04 246.21 L499.54 246.29 L500.04 246.37 L500.54 246.45 L501.04 246.53 L501.54 246.61 L502.04 246.70 L502.54 246.78 L503.04 246.86 L503.54 246.95 L504.04 247.04 L504.54 247.12 L505.04 247.21 L505.54 247.30 L506.04 247.39 L506.54 247.48 L507.04 247.57 L507.54 247.66 L508.04 247.76 L508.54 247.85 L509.04 247.95 L509.54 248.04 L510.04 248.14 L510.54 248.24 L511.04 248.33 L511.54 248.43 L512.04 248.53 L512.54 248.63 L513.04 248.74 L513.54 248.84 L514.04 248.94 L514.54 249.05 L515.04 249.15 L515.54 249.26 L516.04 249.36 L516.54 249.47 L517.04 249.58 L517.54 249.69 L518.04 249.80 L518.54 249.91 L519.04 250.02 L519.54 250.14 L520.04 250.25 L520.54 250.37 L521.04 250.48 L521.54 250.60 L522.04 250.72 L522.54 250.84 L523.04 250.96 L523.54 251.08 L524.04 251.20 L524.54 251.32 L525.04 251.45 L525.54 251.57 L526.04 251.70 L526.54 251.82 L527.04 251.95 L527.54 252.08 L528.04 252.21 L528.54 252.34 L529.04 252.47 L529.54 252.60 L530.04 252.74 L530.54 252.87 L531.04 253.01 L531.54 253.14 L532.04 253.28 L532.54 253.42 L533.04 253.56 L533.54 253.70 L534.04 253.84 L534.54 253.98 L535.04 254.12 L535.54 254.27 L536.04 254.41 L536.54 254.56 L537.04 254.71 L537.54 254.86 L538.04 255.01 L538.54 255.16 L539.04 255.31 L539.54 255.46 L540.04 255.62 L540.54 255.77 L541.04 255.93 L541.54 256.08 L542.04 256.24 L542.54 256.40 L543.04 256.56 L543.54 256.72 L544.04 256.88 L544.54 257.05 L545.04 257.21 L545.54 257.38 L546.04 257.54 L546.54 257.71 L547.04 257.88 L547.54 258.05 L548.04 258.22 L548.54 258.39 L549.04 258.56 L549.54 258.74 L550.04 258.91 L550.54 259.09 L551.04 259.27 L551.54 259.45 L552.04 259.63 L552.54 259.81 L553.04 259.99 L553.54 260.17 L554.04 260.36 L554.54 260.54 L555.04 260.73 L555.54 260.92 L556.04 261.10 L556.54 261.29 L557.04 261.48 L557.54 261.68 L558.04 261.87 L558.54 262.06 L559.04 262.26 L559.54 262.46 L560.04 262.65 L560.54 262.85 L561.04 263.05 L561.54 263.25 L562.04 263.46 L562.54 263.66 L563.04 263.86 L563.54 264.07 L564.04 264.28 L564.54 264.48 L565.04 264.69 L565.54 264.90 L566.04 265.12 L566.54 265.33 L567.04 265.54 L567.54 265.76 L568.04 265.97 L568.54 266.19 L569.04 266.41 L569.54 266.63 L570.04 266.85 L570.54 267.07 L571.04 267.29 L571.54 267.52 L572.04 267.74 L572.54 267.97 L573.04 268.20 L573.54 268.43 L574.04 268.66 L574.54 268.89 L575.04 269.12 L575.54 269.35 L576.04 269.59 L576.54 269.82 L577.04 270.06 L577.54 270.30 L578.04 270.54 L578.54 270.78 L579.04 271.02 L579.54 271.26 L580.04 271.51 L580.54 271.75 L581.04 272.00 L581.54 272.25 L582.04 272.49 L582.54 272.74 L583.04 273.00 L583.54 273.25 L584.04 273.50 L584.54 273.75 L585.04 274.01 L585.54 274.27 L586.04 274.52 L586.54 274.78 L587.04 275.04 L587.54 275.30 L588.04 275.57 L588.54 275.83 L589.04 276.09 L589.54 276.36 L590.04 276.63 L590.54 276.89 L591.04 277.16 L591.54 277.43 L592.04 277.70 L592.54 277.98 L593.04 278.25 L593.54 278.52 L594.04 278.80 L594.54 279.08 L595.04 279.35 L595.54 279.63 L596.04 279.91 L596.54 280.19 L597.04 280.48 L597.54 280.76 L598.04 281.04 L598.54 281.33 L599.04 281.61 L599.54 281.90 L600.04 282.19 L600.54 282.48 L601.04 282.77 L601.54 283.06 L602.04 283.35 L602.54 283.64 L603.04 283.94 L603.54 284.23 L604.04 284.53 L604.54 284.83 L605.04 285.12 L605.54 285.42 L606.04 285.72 L606.54 286.02 L607.04 286.32 L607.54 286.63 L608.04 286.93 L608.54 287.24 L609.04 287.54 L609.54 287.85 L610.04 288.15 L610.54 288.46 L611.04 288.77 L611.54 289.08 L612.04 289.39 L612.54 289.70 L613.04 290.01 L613.54 290.33 L614.04 290.64 L614.54 290.95 L615.04 291.27 L615.54 291.58 L616.04 291.90 L616.54 292.22 L617.04 292.54 L617.54 292.86 L618.04 293.17 L618.54 293.49 L619.04 293.82 L619.54 294.14 L620.04 294.46 L620.54 294.78 L621.04 295.10 L621.54 295.43 L622.04 295.75 L622.54 296.08 L623.04 296.40 L623.54 296.73 L624.04 297.06 L624.54 297.38 L625.04 297.71 L625.54 298.04 L626.04 298.37 L626.54 298.69 L627.04 299.02 L627.54 299.35 L628.04 299.68 L628.54 300.01 L629.04 300.34 L629.54 300.67 L630.04 301.01 L630.54 301.34 L631.04 301.67 L631.54 302.00 L632.04 302.33 L632.54 302.66 L633.04 303.00 L633.54 303.33 L634.04 303.66 L634.54 304.00 L635.04 304.33 L635.54 304.66 L636.04 304.99 L636.54 305.33 L637.04 305.66 L637.54 305.99 L638.04 306.33 L638.54 306.66 L639.04 306.99 L639.54 307.32 L640.04 307.66 L640.54 307.99 L641.04 308.32 L641.54 308.65 L642.04 308.99 L642.54 309.32 L643.04 309.65 L643.54 309.98 L644.04 310.31 L644.54 310.64 L645.04 310.97 L645.54 311.30 L646.04 311.63 L646.54 311.95 L647.04 312.28 L647.54 312.61 L648.04 312.93 L648.54 313.26 L649.04 313.59 L649.54 313.91 L650.04 314.23 L650.54 314.56 L651.04 314.88 L651.54 315.20 L652.04 315.52 L652.54 315.84 L653.04 316.16 L653.54 316.48 L654.04 316.79 L654.54 317.11 L655.04 317.42 L655.54 317.74 L656.04 318.05 L656.54 318.36 L657.04 318.67 L657.54 318.98 L658.04 319.29 L658.54 319.60 L659.04 319.90 L659.54 320.21 L660.04 320.51 L660.54 320.81 L661.04 321.11 L661.54 321.41 L662.04 321.71 L662.54 322.00 L663.04 322.30 L663.54 322.59 L664.04 322.88 L664.54 323.17 L665.04 323.46 L665.54 323.74 L666.04 324.03 L666.54 324.31 L667.04 324.59 L667.54 324.87 L668.04 325.15 L668.54 325.42 L669.04 325.69 L669.54 325.97 L670.04 326.23 L670.54 326.50 L671.04 326.77 L671.54 327.03 L672.04 327.29 L672.54 327.55 L673.04 327.80 L673.54 328.06 L674.04 328.31 L674.54 328.56 L675.04 328.81 L675.54 329.05 L676.04 329.29 L676.54 329.53 L677.04 329.77 L677.54 330.00 L678.04 330.24 L678.54 330.47 L679.04 330.69 L679.54 330.92 L680.04 331.14 L680.54 331.36 L681.04 331.58 L681.54 331.79 L682.04 332.00 L682.54 332.21 L683.04 332.42 L683.54 332.62 L684.04 332.82 L684.54 333.02 L685.04 333.22 L685.54 333.41 L686.04 333.60 L686.54 333.78 L687.04 333.97 L687.54 334.15 L688.04 334.33 L688.54 334.50 L689.04 334.68 L689.54 334.84 L690.04 335.01 L690.54 335.17 L691.04 335.34 L691.54 335.49 L692.04 335.65 L692.54 335.80 L693.04 335.95 L693.54 336.09 L694.04 336.24 L694.54 336.38 L695.04 336.51 L695.54 336.65 L696.04 336.78 L696.54 336.91 L697.04 337.03 L697.54 337.16 L698.04 337.28 L698.54 337.39 L699.04 337.51 L699.54 337.62 L700.04 337.73 L700.54 337.83 L701.04 337.93 L701.54 338.03 L702.04 338.13 L702.54 338.23 L703.04 338.32 L703.54 338.41 L704.04 338.49 L704.54 338.58 L705.04 338.66 L705.54 338.74 L706.04 338.82 L706.54 338.89 L707.04 338.96 L707.54 339.03 L708.04 339.10 L708.54 339.16 L709.04 339.22 L709.54 339.28 L710.04 339.34 L710.54 339.40 L711.04 339.45 L711.54 339.50 L712.04 339.55 L712.54 339.60 L713.04 339.64 L713.54 339.68 L714.04 339.73 L714.54 339.76 L715.04 339.80 L715.54 339.84 L716.04 339.87 L716.54 339.91 L717.04 339.94 L717.54 339.97 L718.04 339.99 L718.54 340.02 L719.04 340.05 L719.54 340.07 L720.04 340.09 L720.54 340.11 L721.04 340.13 L721.54 340.15 L722.04 340.17 L722.54 340.19 L723.04 340.20 L723.54 340.22 L724.04 340.23 L724.54 340.24 L725.04 340.25 L725.54 340.26 L726.04 340.27 L726.54 340.28 L727.04 340.29 L727.54 340.30 L728.04 340.31 L728.54 340.32 L729.04 340.32 L729.54 340.33 L730.04 340.33 L730.54 340.34 L731.04 340.34 L731.54 340.35 L732.04 340.35 L732.54 340.35 L733.04 340.36 L733.54 340.36 L734.04 340.36 L734.54 340.36 L735.04 340.37 L735.54 340.37 L736.04 340.37 L736.54 340.37 L737.04 340.37 L737.54 340.37 L738.04 340.37 L738.54 340.38 L739.04 340.38 L739.54 340.38 L740.04 340.38 L740.54 340.38 L741.04 340.38 L741.54 340.38 L742.04 340.38 L742.54 340.38 L743.04 340.38 L743.54 340.38 L744.04 340.38 L744.54 340.38 L745.04 340.38 L745.54 340.38 L746.04 340.38 L746.54 340.38 L747.04 340.38 L747.54 340.38 L748.04 340.38 L748.54 340.38 L749.04 340.38 L749.54 340.38 L750.04 340.38 L750.54 340.38 L751.04 340.38 L751.54 340.38 L752.04 340.38 L752.54 340.38 L753.04 340.38 L753.54 340.38 L754.04 340.38 L754.54 340.38 L755.04 340.38 L755.54 340.38 L756.04 340.38 L756.54 340.38 L757.04 340.38 L757.54 340.38 L758.04 340.38 L758.54 340.38 L759.04 340.38 L759.54 340.38 L760.04 340.38 L760.54 340.38 L761.04 340.38 L761.54 340.38 L762.04 340.38 L762.54 340.38 L763.04 340.38 L763.54 340.38 L764.04 340.38 L764.54 340.38 L765.04 340.38 L765.54 340.38 L766.04 340.38 L766.54 340.38 L767.04 340.38 L767.54 340.38 L768.04 340.38 L768.54 340.38 L769.04 340.38 L769.54 340.38 L770.04 340.38 L770.54 340.38 L771.04 340.38 L771.54 340.38 L772.04 340.38 L772.54 340.38 L773.04 340.38 L773.54 340.38 L774.04 340.38 L774.54 340.38 L775.04 340.38 L775.54 340.38 L776.04 340.38 L776.54 340.38 L777.04 340.38"/>
</g>
<g fill="none" stroke="#000" stroke-width="0.76" stroke-linecap="butt">
<path d="M75.50 351.50 L784.25 351.50"/>
<path d="M75.50 351.12 L75.50 357.90"/>
<path d="M217.25 351.12 L217.25 357.90"/>
<path d="M359.00 351.12 L359.00 357.90"/>
<path d="M500.75 351.12 L500.75 357.90"/>
<path d="M642.50 351.12 L642.50 357.90"/>
<path d="M784.25 351.12 L784.25 357.90"/>
</g>
<g font-family="'Liberation Sans', sans-serif" fill="#000" text-rendering="geometricPrecision">
<g font-size="10.50" text-anchor="middle">
<text x="75.50" y="373.90">0.0</text>
<text x="217.25" y="373.90">0.2</text>
<text x="359.00" y="373.90">0.4</text>
<text x="500.75" y="373.90">0.6</text>
<text x="642.50" y="373.90">0.8</text>
<path d="M763 0H583V1147Q518 1085 412.5 1023Q307 961 223 930V1104Q374 1175 487 1276Q600 1377 647 1472H763Z" transform="translate(776.95 373.90) scale(0.005127 -0.005127)" fill="#000"/>
<text x="782.79" y="373.90" text-anchor="start">.0</text>
</g>
<path d="M534 451 C502 291 394 13 258 13 C144 13 72 110 72 236 C72 372 149 469 269 469 C394 469 455 318 482 155 C496 74 519 13 555 13 C573 13 586 31 591 58 M283 13 C169 13 97 110 97 236 C97 372 174 469 294 469" transform="translate(141.33 244.60) scale(0.01400 -0.01400)" fill="none" stroke="#000" stroke-width="62" stroke-linecap="round" stroke-linejoin="round"/>
<rect x="153.43" y="241.94" width="7.36" height="0.69"/>
<rect x="153.43" y="239.14" width="7.36" height="0.69"/>
<text x="164.07" y="244.60" font-size="14.00">0.0</text>
<path d="M763 0H583V1147Q518 1085 412.5 1023Q307 961 223 930V1104Q374 1175 487 1276Q600 1377 647 1472H763Z" transform="translate(183.53 244.60) scale(0.006836 -0.006836)" fill="#000"/>
<path d="M534 451 C502 291 394 13 258 13 C144 13 72 110 72 236 C72 372 149 469 269 469 C394 469 455 318 482 155 C496 74 519 13 555 13 C573 13 586 31 591 58 M283 13 C169 13 97 110 97 236 C97 372 174 469 294 469" transform="translate(531.33 96.15) scale(0.01400 -0.01400)" fill="none" stroke="#000" stroke-width="62" stroke-linecap="round" stroke-linejoin="round"/>
<rect x="543.43" y="93.49" width="7.36" height="0.69"/>
<rect x="543.43" y="90.69" width="7.36" height="0.69"/>
<text x="554.07" y="96.15" font-size="14.00">0.8</text>
<path d="M534 451 C502 291 394 13 258 13 C144 13 72 110 72 236 C72 372 149 469 269 469 C394 469 455 318 482 155 C496 74 519 13 555 13 C573 13 586 31 591 58 M283 13 C169 13 97 110 97 236 C97 372 174 469 294 469" transform="translate(602.23 230.60) scale(0.01400 -0.01400)" fill="none" stroke="#000" stroke-width="62" stroke-linecap="round" stroke-linejoin="round"/>
<rect x="614.33" y="227.94" width="7.36" height="0.69"/>
<rect x="614.33" y="225.14" width="7.36" height="0.69"/>
<text x="624.97" y="230.60" font-size="14.00">0.5</text>
<g transform="translate(425.65 398.7) scale(0.01050 -0.01050)" fill="none" stroke="#000" stroke-linecap="butt" stroke-linejoin="miter"><path d="M95 460V0" stroke-width="120"/><path d="M110 165L370 420H525" stroke-width="80"/><path d="M205 285C290 225 350 70 515 40" stroke-width="100"/></g>
</g>
</svg>
</body></html>
